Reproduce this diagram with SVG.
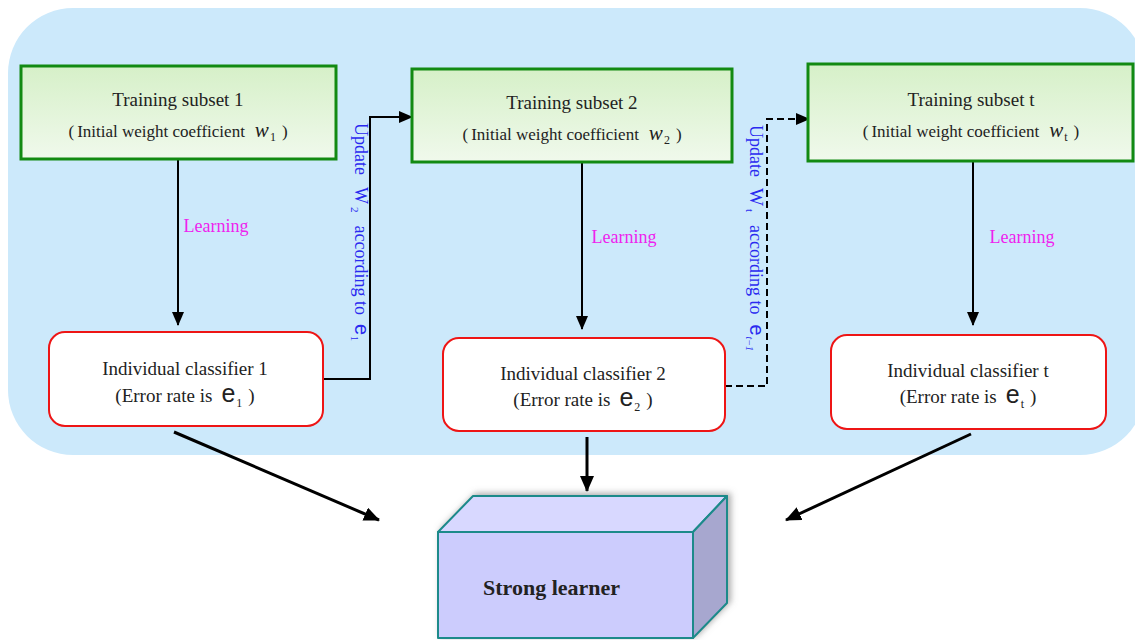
<svg xmlns="http://www.w3.org/2000/svg" width="1135" height="640" viewBox="0 0 1135 640">
  <style>
    .serif { font-family: "Liberation Serif", "Times New Roman", serif; fill: #222; }
    .sans { font-family: "Liberation Sans", Arial, sans-serif; }
    .train { fill: url(#greenFill); stroke: #128a12; stroke-width: 3; }
    .clf { fill: #ffffff; stroke: #ee1515; stroke-width: 2; }
    .learn { font-family: "Liberation Serif", "Times New Roman", serif; font-size: 18px; fill: #ee22ee; }
    .upd { font-family: "Liberation Serif", "Times New Roman", serif; font-size: 18px; fill: #2a2af0; }
    .wire { fill: none; stroke: #000; stroke-width: 2; }
    .thick { fill: none; stroke: #000; stroke-width: 3; }
  </style>
  <defs>
    <linearGradient id="greenFill" x1="0" y1="0" x2="0" y2="1">
      <stop offset="0" stop-color="#d6f0c8"/>
      <stop offset="1" stop-color="#f0f9ec"/>
    </linearGradient>
    <marker id="arrow" markerWidth="14" markerHeight="12" refX="13" refY="6" orient="auto" markerUnits="userSpaceOnUse">
      <path d="M0,0 L14,6 L0,12 Z" fill="#000"/>
    </marker>
    <marker id="arrowBig" markerWidth="16" markerHeight="14" refX="15" refY="7" orient="auto" markerUnits="userSpaceOnUse">
      <path d="M0,0 L16,7 L0,14 Z" fill="#000"/>
    </marker>
    <filter id="boxShadow" x="-10%" y="-20%" width="130%" height="140%">
      <feDropShadow dx="3" dy="-2" stdDeviation="3" flood-color="#777" flood-opacity="0.6"/>
    </filter>
  </defs>

  <!-- background panel -->
  <rect x="8" y="8" width="1137" height="447" rx="65" ry="65" fill="#cce9fb"/>

  <!-- connectors -->
  <g id="connectors">
    <line class="wire" x1="178" y1="159" x2="178" y2="325" marker-end="url(#arrow)"/>
    <line class="wire" x1="582" y1="162" x2="582" y2="329" marker-end="url(#arrow)"/>
    <line class="wire" x1="973" y1="161" x2="973" y2="325" marker-end="url(#arrow)"/>
    <polyline class="wire" points="323,379 370,379 370,117 412,117" marker-end="url(#arrow)"/>
    <polyline class="wire" points="725,386 767,386 767,119 809,119" stroke-dasharray="7,4" marker-end="url(#arrow)"/>
    <line class="thick" x1="174" y1="432" x2="379" y2="520" marker-end="url(#arrowBig)"/>
    <line class="thick" x1="587" y1="437" x2="587" y2="491" marker-end="url(#arrowBig)"/>
    <line class="thick" x1="971" y1="434" x2="786" y2="520" marker-end="url(#arrowBig)"/>
  </g>

  <!-- edge labels -->
  <g id="labels">
    <text class="learn" x="216" y="232" text-anchor="middle">Learning</text>
    <text class="learn" x="624" y="243" text-anchor="middle">Learning</text>
    <text class="learn" x="1022" y="243" text-anchor="middle">Learning</text>
    <text class="upd" transform="translate(355,123) rotate(90)">Update<tspan dx="12" font-size="18">W</tspan><tspan dx="3" dy="4" font-size="11">2</tspan><tspan dx="13" dy="-4">according to</tspan><tspan class="sans" dx="9" font-size="20">e</tspan><tspan dx="1" dy="4" font-size="10">1</tspan></text>
    <text class="upd" transform="translate(750,125) rotate(90)">Update<tspan dx="11" font-size="19">W</tspan><tspan dx="3" dy="4" font-size="11">t</tspan><tspan dx="13" dy="-4">according to</tspan><tspan class="sans" dx="10" font-size="20">e</tspan><tspan dx="1" dy="4" font-size="10" font-style="italic">t−1</tspan></text>
  </g>

  <!-- training subsets -->
  <g id="train1">
    <rect class="train" x="21" y="66" width="315" height="93"/>
    <text class="serif" x="178" y="106" font-size="19" text-anchor="middle">Training subset 1</text>
    <text class="serif" x="178" y="137" font-size="17" text-anchor="middle">(<tspan dx="3">Initial weight coefficient</tspan><tspan dx="10" font-size="21" font-style="italic">w</tspan><tspan dx="1" dy="4" font-size="12">1</tspan><tspan dx="6" dy="-4">)</tspan></text>
  </g>
  <g id="train2">
    <rect class="train" x="412" y="69" width="320" height="93"/>
    <text class="serif" x="572" y="109" font-size="19" text-anchor="middle">Training subset 2</text>
    <text class="serif" x="572" y="140" font-size="17" text-anchor="middle">(<tspan dx="3">Initial weight coefficient</tspan><tspan dx="10" font-size="21" font-style="italic">w</tspan><tspan dx="1" dy="4" font-size="12">2</tspan><tspan dx="6" dy="-4">)</tspan></text>
  </g>
  <g id="trainT">
    <rect class="train" x="808" y="64" width="325" height="97"/>
    <text class="serif" x="971" y="106" font-size="19" text-anchor="middle">Training subset t</text>
    <text class="serif" x="971" y="137" font-size="17" text-anchor="middle">(<tspan dx="3">Initial weight coefficient</tspan><tspan dx="10" font-size="21" font-style="italic">w</tspan><tspan dx="1" dy="4" font-size="12">t</tspan><tspan dx="6" dy="-4">)</tspan></text>
  </g>

  <!-- individual classifiers -->
  <g id="clf1">
    <rect class="clf" x="49" y="332" width="274" height="94" rx="16" ry="16"/>
    <text class="serif" x="185" y="375" font-size="19" text-anchor="middle">Individual classifier 1</text>
    <text class="serif" x="185" y="402" font-size="19" text-anchor="middle">(Error rate is<tspan class="sans" dx="9" font-size="25">e</tspan><tspan dx="1" dy="5" font-size="12">1</tspan><tspan dx="6" dy="-5">)</tspan></text>
  </g>
  <g id="clf2">
    <rect class="clf" x="443" y="338" width="282" height="93" rx="16" ry="16"/>
    <text class="serif" x="583" y="380" font-size="19" text-anchor="middle">Individual classifier 2</text>
    <text class="serif" x="583" y="406" font-size="19" text-anchor="middle">(Error rate is<tspan class="sans" dx="9" font-size="25">e</tspan><tspan dx="1" dy="5" font-size="12">2</tspan><tspan dx="6" dy="-5">)</tspan></text>
  </g>
  <g id="clfT">
    <rect class="clf" x="831" y="335" width="275" height="94" rx="16" ry="16"/>
    <text class="serif" x="968" y="377" font-size="19" text-anchor="middle">Individual classifier t</text>
    <text class="serif" x="968" y="403" font-size="19" text-anchor="middle">(Error rate is<tspan class="sans" dx="9" font-size="25">e</tspan><tspan dx="1" dy="5" font-size="12">t</tspan><tspan dx="6" dy="-5">)</tspan></text>
  </g>

  <!-- strong learner block -->
  <g id="strong">
    <g filter="url(#boxShadow)" stroke="#1a8a8a" stroke-width="2" stroke-linejoin="round">
      <polygon points="438,532 473,496 727,496 693,532" fill="#d8d8ff"/>
      <polygon points="693,532 727,496 727,603 693,638" fill="#a7a7cf"/>
      <rect x="438" y="532" width="255" height="106" fill="#ccccfd"/>
    </g>
    <text class="serif" x="483" y="595" font-size="22" font-weight="bold">Strong learner</text>
  </g>
</svg>
